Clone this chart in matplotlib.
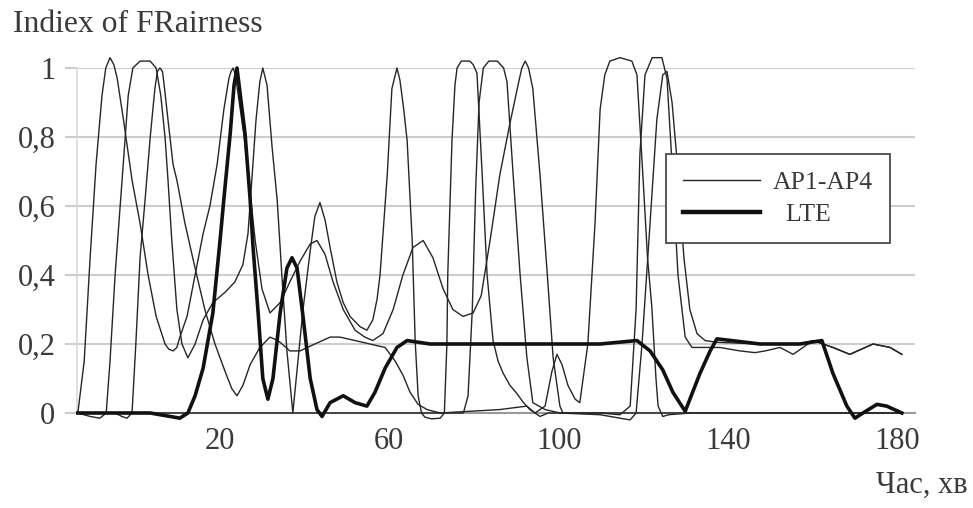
import matplotlib.pyplot as plt
from matplotlib.lines import Line2D

# time axis (minutes), fairness index values
ap_a_t = [-13.6, -12.1, -10.7, -9.3, -7.9, -7.0, -6.0, -5.1, -4.3, -2.7, -0.8, 1.1, 3.0, 4.9, 7.0,
          7.9, 8.9, 9.8, 10.5, 12.2, 14.1, 16.0, 17.6, 19.3, 20.9, 22.1, 22.6, 23.1, 23.6, 24.2,
          25.7, 26.8, 28.3, 29.9, 31.8, 34.2, 36.5, 38.9, 41.3, 42.9, 44.8, 46.7, 49.1, 51.9, 54.2,
          56.1, 58.5, 60.9, 63.2, 65.6, 68.0, 70.3, 72.7, 75.0, 77.4, 79.8, 81.7, 83.8, 86.1, 88.5,
          90.4, 91.3, 92.1, 92.9, 93.9, 95.6, 97.3, 98.7, 100.3, 101.0, 103.9, 109.8, 114.5, 116.9,
          118.3, 119.2, 120.4, 122.1, 124.4, 125.6, 126.8, 128.2, 129.9, 131.5, 133.4, 138.1, 142.8,
          146.4, 148.8, 152.3, 155.4, 160.1, 164.8, 168.8, 174.3, 178.3, 181.1]
ap_a_y = [0, 0.15, 0.45, 0.72, 0.92, 1.0, 1.03, 1.01, 0.97, 0.84, 0.675, 0.55, 0.4, 0.28, 0.2,
          0.185, 0.18, 0.19, 0.22, 0.28, 0.4, 0.52, 0.6, 0.72, 0.88, 0.97, 0.99, 1.0, 0.98, 0.93,
          0.8, 0.675, 0.5, 0.36, 0.29, 0.32, 0.38, 0.44, 0.49, 0.5, 0.46, 0.38, 0.3, 0.24, 0.22,
          0.21, 0.23, 0.3, 0.4, 0.48, 0.5, 0.45, 0.36, 0.3, 0.28, 0.29, 0.34, 0.5, 0.69, 0.84,
          0.95, 1.0, 1.02, 1.0, 0.94, 0.69, 0.405, 0.16, 0.02, 0, 0, 0, -0.005, 0.02,
          0.3, 0.75, 0.98, 1.03, 1.03, 0.97, 0.72, 0.4, 0.22, 0.19, 0.19, 0.19, 0.18,
          0.175, 0.18, 0.19, 0.17, 0.21, 0.19, 0.17, 0.2, 0.19, 0.17]

ap_b_t = [-13.6, -10.7, -8.4, -6.9, -6.0, -4.8, -3.6, -2.7, -1.7, -0.6, 1.1, 3.5, 4.9, 6.0, 7.0,
          7.7, 8.6, 9.8, 11.0, 12.4, 14.1, 16.0, 18.3, 21.2, 23.5, 25.4, 26.6, 27.5, 28.5, 29.4,
          30.1, 31.1, 32.3, 33.5, 34.6, 35.8, 37.2, 38.4, 39.6, 41.3, 42.4, 43.6, 44.8, 46.0, 47.6,
          49.1, 50.7, 53.1, 54.7, 56.1, 57.1, 57.8, 59.5, 60.6, 61.8, 62.5, 63.4, 64.2, 65.4, 66.1,
          66.8, 67.6, 68.4, 70.0, 72.0, 73.0, 73.6, 73.8, 74.8, 75.5, 76.0, 77.0, 79.0, 79.8, 80.7,
          81.9, 83.1, 84.5, 85.7, 86.9, 88.5, 90.1, 91.7, 93.2, 95.6, 97.5, 133.4, 181.1]
ap_b_y = [0, -0.01, -0.015, 0, 0.15, 0.4, 0.6, 0.75, 0.92, 1.0, 1.02, 1.02, 1.0, 0.92, 0.8,
          0.675, 0.5, 0.3, 0.2, 0.16, 0.2, 0.27, 0.32, 0.35, 0.38, 0.43, 0.52, 0.675, 0.85, 0.96,
          1.0, 0.95, 0.77, 0.617, 0.4, 0.18, 0, 0.15, 0.3, 0.47, 0.57, 0.61, 0.56, 0.48, 0.38,
          0.32, 0.28, 0.25, 0.24, 0.27, 0.33, 0.4, 0.69, 0.94, 1.0, 0.965, 0.88, 0.79, 0.5, 0.21,
          0.05, 0, -0.012, -0.017, -0.015, 0, 0.2, 0.4, 0.79, 0.95, 1.0, 1.02, 1.02, 1.01, 0.985,
          0.7, 0.4, 0.21, 0.15, 0.115, 0.08, 0.057, 0.03, 0.01, -0.01, 0, 0, 0]

ap_c_t = [-13.6, -4.8, -3.2, -2.0, -0.8, 0.1, 1.1, 2.3, 3.5, 4.6, 5.2, 5.8, 6.4, 6.8, 7.7,
          8.9, 9.8, 11.7, 14.1, 16.4, 18.8, 21.2, 22.8, 24.0, 25.4, 27.1, 29.4, 31.8, 33.7, 36.5,
          38.9, 42.4, 46.0, 48.3, 51.9, 55.4, 59.0, 61.4, 63.2, 64.9, 66.8, 68.9, 72.0, 86.1, 92.5,
          94.4, 96.8, 98.4, 99.6, 100.8, 102.2, 103.9, 105.0, 106.9, 108.6, 109.8, 110.9, 112.1,
          114.5, 117.3, 118.5, 119.9, 121.0, 122.0, 123.0, 123.5, 124.6, 126.0, 131.0, 181.1]
ap_c_y = [0, 0, -0.01, -0.015, 0, 0.2, 0.45, 0.62, 0.8, 0.94, 0.99, 1.0, 0.99, 0.95, 0.85,
          0.72, 0.675, 0.55, 0.42, 0.3, 0.2, 0.12, 0.07, 0.05, 0.08, 0.14, 0.19, 0.22, 0.21, 0.18,
          0.18, 0.2, 0.22, 0.22, 0.21, 0.2, 0.19, 0.15, 0.11, 0.06, 0.025, 0.01, 0, 0.01, 0.02,
          0, 0.02, 0.12, 0.17, 0.14, 0.08, 0.04, 0.03, 0.2, 0.55, 0.88, 0.98, 1.02,
          1.03, 1.02, 0.98, 0.69, 0.45, 0.31, 0.1, 0.02, -0.01, -0.005, 0, 0]

ap_d_t = [-13.6, 77.5, 78.6, 79.6, 80.4, 81.2, 82.2, 83.5, 85.5, 87.0, 87.8, 89.2, 90.9, 92.5,
          93.9, 96.8, 100.3, 109.8, 114.5, 116.9, 118.3, 119.7, 121.6, 123.2, 124.6, 125.6, 126.8,
          128.2, 129.6, 131.0, 132.7, 134.6, 137.4, 147.6, 157.0, 160.1, 164.8, 168.8, 174.3,
          178.3, 181.1]
ap_d_y = [0, 0, 0.05, 0.3, 0.65, 0.9, 1.0, 1.02, 1.02, 1.0, 0.96, 0.7, 0.4, 0.16,
          0.03, 0.01, 0, -0.005, -0.015, -0.02, 0, 0.2, 0.55, 0.85, 0.98, 0.99, 0.9,
          0.7, 0.45, 0.3, 0.23, 0.21, 0.205, 0.2, 0.2, 0.21, 0.19, 0.17, 0.2,
          0.19, 0.17]

lte_t = [-13.6, 3.5, 8.2, 10.5, 12.4, 14.1, 16.0, 18.3, 20.0, 20.9, 22.4, 23.3, 24.0, 25.9, 27.1,
         27.8, 29.0, 30.1, 31.3, 32.5, 34.2, 35.8, 37.0, 38.2, 39.6, 41.3, 42.9, 44.1, 46.0, 49.1,
         51.9, 54.7, 56.6, 59.0, 61.8, 64.2, 69.6, 86.1, 109.8, 118.5, 121.6, 124.6, 127.0, 129.9,
         133.4, 135.8, 137.4, 147.6, 157.0, 162.2, 164.8, 168.1, 170.0, 171.9, 175.2, 177.5, 181.1]
lte_y = [0, 0, -0.01, -0.015, 0, 0.05, 0.13, 0.29, 0.5, 0.62, 0.81, 0.95, 1.0, 0.81, 0.62,
         0.48, 0.29, 0.1, 0.04, 0.1, 0.29, 0.42, 0.45, 0.42, 0.28, 0.1, 0.01, -0.01, 0.03, 0.05,
         0.03, 0.02, 0.06, 0.13, 0.19, 0.21, 0.2, 0.2, 0.2, 0.21, 0.18, 0.125, 0.06, 0.005,
         0.115, 0.18, 0.215, 0.2, 0.2, 0.21, 0.115, 0.02, -0.015, 0, 0.025, 0.02, 0]

x_ticks = [20, 60, 100, 140, 180]
y_ticks = [0, 0.2, 0.4, 0.6, 0.8, 1]
y_tick_labels = ["0", "0,2", "0,4", "0,6", "0,8", "1"]

plt.rcParams['font.family'] = ['Liberation Serif', 'DejaVu Serif']
text_color = "#3a3a3a"
grid_color = "#cdcdcd"
line_color = "#262626"

fig = plt.figure(figsize=(9.73, 5.08), dpi=100)
ax = fig.add_axes([77 / 973, 1 - 413 / 508, 838 / 973, 345 / 508])

for t, y in [(ap_a_t, ap_a_y), (ap_b_t, ap_b_y), (ap_c_t, ap_c_y), (ap_d_t, ap_d_y)]:
    ax.plot(t, y, color=line_color, lw=1.0, clip_on=False, zorder=3,
            solid_joinstyle="round")
ax.plot(lte_t, lte_y, color="#111111", lw=2.6, clip_on=False, zorder=4,
        solid_joinstyle="round")

ax.set_xlim(-13.8, 184.2)
ax.set_ylim(0, 1)
ax.set_xticks(x_ticks)
ax.set_xticklabels([str(v) for v in x_ticks])
ax.set_yticks(y_ticks)
ax.set_yticklabels(y_tick_labels)
ax.yaxis.grid(True, color=grid_color, lw=1.5)
ax.set_axisbelow(True)
ax.tick_params(axis="y", length=8.6, width=1.5, color=grid_color, pad=7,
               labelsize=22, labelcolor=text_color)
ax.tick_params(axis="x", length=0, pad=10, labelsize=22, labelcolor=text_color)
for side in ["top", "right"]:
    ax.spines[side].set_visible(False)
ax.spines["left"].set_color("#dadada")
ax.spines["left"].set_linewidth(1.2)
ax.spines["bottom"].set_color("#9a9a9a")
ax.spines["bottom"].set_linewidth(1.5)

handles = [Line2D([], [], color=line_color, lw=1.0),
           Line2D([], [], color="#111111", lw=3.2)]
leg = ax.legend(handles, ["AP1-AP4", "  LTE"], loc="upper left",
                bbox_to_anchor=(666 / 973, 1 - 154 / 508), bbox_transform=fig.transFigure,
                fontsize=18.5, handlelength=3.0, handletextpad=0.5, borderpad=0.66,
                labelspacing=0.35, fancybox=False, framealpha=1, edgecolor="#4a4a4a",
                borderaxespad=0)
leg.get_frame().set_linewidth(1.3)
for txt in leg.get_texts():
    txt.set_color(text_color)
leg.set_zorder(6)

fig.text(13 / 973, 1 - 24 / 508, "Indiex of FRairness", fontsize=22.8, color=text_color,
         ha="left", va="center")
fig.text(968 / 973, 1 - 485 / 508, "Час, хв", fontsize=22, color=text_color,
         ha="right", va="center")

fig.savefig("out.png", dpi=100)
